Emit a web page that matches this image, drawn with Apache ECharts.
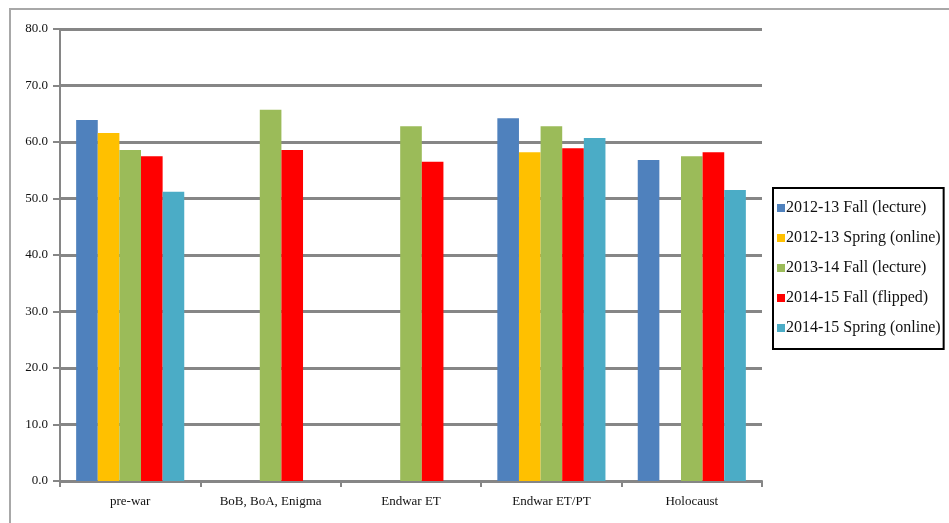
<!DOCTYPE html>
<html><head><meta charset="utf-8">
<script src="https://cdn.jsdelivr.net/npm/echarts@6/dist/echarts.min.js"></script>
<style>html,body{margin:0;padding:0;background:#fff}#c{width:949px;height:523px}</style>
</head><body><div id="c"></div>
<script>
const categories = ["pre-war", "BoB, BoA, Enigma", "Endwar ET", "Endwar ET/PT", "Holocaust"];
const seriesNames = ["2012-13 Fall (lecture)", "2012-13 Spring (online)", "2013-14 Fall (lecture)", "2014-15 Fall (flipped)", "2014-15 Spring (online)"];
const fall1213 = [63.9, null, null, 64.2, 56.8];
const spring1213 = [61.6, null, null, 58.2, null];
const fall1314 = [58.6, 65.7, 62.8, 62.8, 57.5];
const fall1415 = [57.5, 58.6, 56.5, 58.9, 58.2];
const spring1415 = [51.2, null, null, 60.7, 51.5];
const colors = ["#4F81BD", "#FFC000", "#9BBB59", "#FF0000", "#4BACC6"];
const values = [fall1213, spring1213, fall1314, fall1415, spring1415];

const chart = echarts.init(document.getElementById('c'));
const font = '"Liberation Serif", "DejaVu Serif", serif';
chart.setOption({
  animation: false,
  textStyle: {fontFamily: font},
  graphic: [
    {type: 'line', shape: {x1: 9, y1: 9, x2: 949, y2: 9}, style: {stroke: '#a8a8a8', lineWidth: 2}},
    {type: 'line', shape: {x1: 10, y1: 9, x2: 10, y2: 523}, style: {stroke: '#a8a8a8', lineWidth: 2}}
  ],
  grid: {left: 60, right: 187, top: 29, bottom: 42},
  legend: {
    orient: 'vertical', left: 773, top: 188, width: 173,
    data: seriesNames, icon: 'rect', itemWidth: 8, itemHeight: 8, itemGap: 14,
    borderColor: '#000', borderWidth: 2, padding: [12, 3, 13, 4],
    textStyle: {fontFamily: font, fontSize: 16, color: '#111', padding: [0, 0, 0, -4]}
  },
  xAxis: {
    type: 'category', data: categories,
    axisLine: {lineStyle: {color: '#868686', width: 2}},
    axisTick: {show: true, alignWithLabel: false, length: 6, lineStyle: {color: '#868686', width: 2}},
    axisLabel: {fontFamily: font, fontSize: 13, color: '#111', margin: 14}
  },
  yAxis: {
    type: 'value', min: 0, max: 80, interval: 10,
    axisLine: {show: true, lineStyle: {color: '#868686', width: 2}},
    axisTick: {show: true, length: 7, lineStyle: {color: '#868686', width: 2}},
    splitLine: {lineStyle: {color: '#868686', width: 3}},
    axisLabel: {fontFamily: font, fontSize: 13, color: '#111', margin: 12, formatter: v => v.toFixed(1)}
  },
  series: seriesNames.map((n, i) => ({
    name: n, type: 'bar', data: values[i], barGap: '0%', barCategoryGap: '23%',
    itemStyle: {color: colors[i]}
  }))
});
</script></body></html>
